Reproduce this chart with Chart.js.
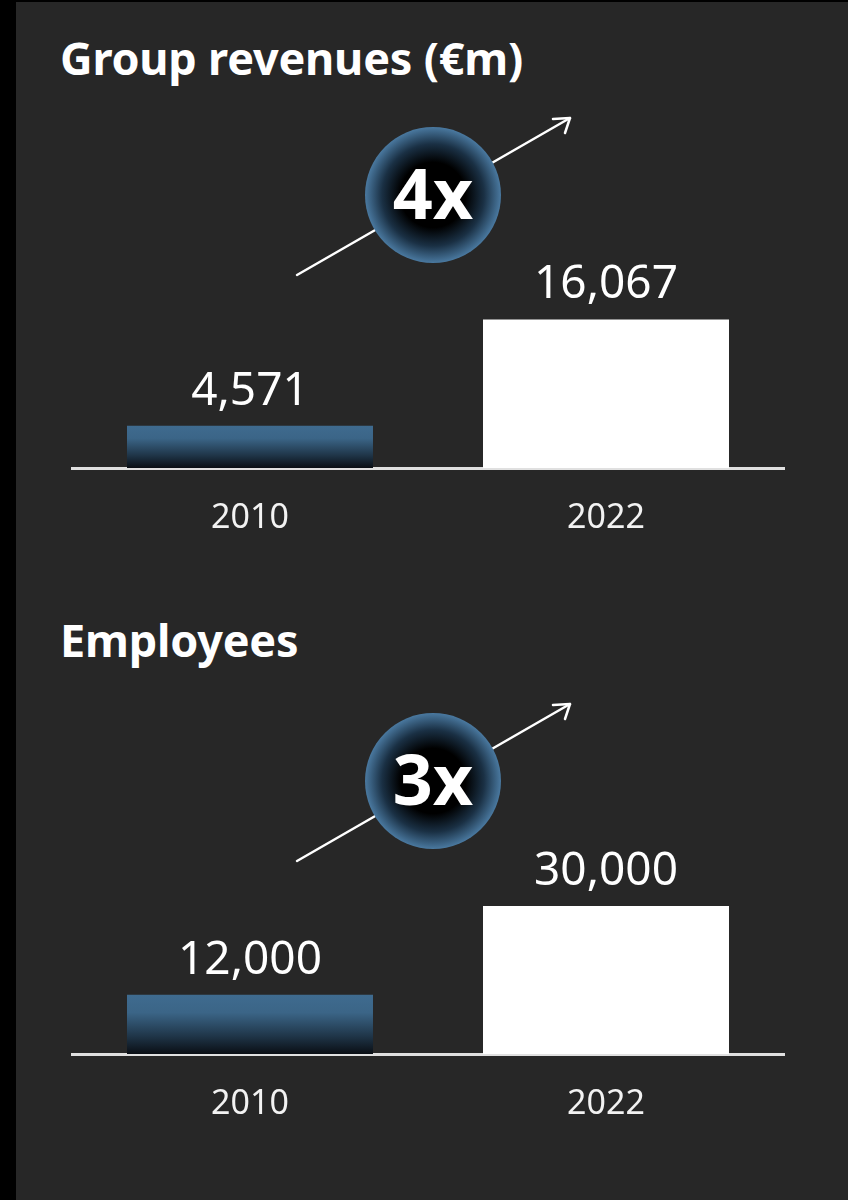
<!DOCTYPE html>
<html>
<head>
<meta charset="utf-8">
<script src="https://cdn.jsdelivr.net/npm/chart.js@4.4.1/dist/chart.umd.min.js"></script>
<style>
  html, body { margin: 0; padding: 0; }
  body {
    width: 848px; height: 1200px; position: relative; overflow: hidden;
    background: #000;
    font-family: "Noto Sans", sans-serif;
  }
  .panel {
    position: absolute; left: 16px; top: 2px; right: 0; bottom: 0;
    background: #272727;
  }
  .title {
    position: absolute; left: 60px; color: #fff;
    font-weight: 700; font-size: 45px; line-height: 1;
    letter-spacing: -0.2px;
  }
  .box { position: absolute; left: 0; width: 848px; height: 600px; }
</style>
</head>
<body>
<div class="panel"></div>
<div class="title" style="top:35px">Group revenues (€m)</div>
<div class="title" style="top:617px">Employees</div>
<div class="box" style="top:0"><canvas id="revChart"></canvas></div>
<div class="box" style="top:586px"><canvas id="empChart"></canvas></div>

<script>
const years = ['2010', '2022'];
const revenues = [4571, 16067];
const employees = [12000, 30000];
const revMax = 32000;
const empMax = 60000;
const revGrowth = '4x';
const empGrowth = '3x';

// blue fade for the older bar, plain white for the current one
function barFill(ctx) {
  const chart = ctx.chart;
  if (!chart.chartArea || ctx.dataIndex === 1) return '#ffffff';
  const y = chart.scales.y;
  const top = y.getPixelForValue(ctx.raw);
  const bottom = y.getPixelForValue(0);
  const g = chart.ctx.createLinearGradient(0, top, 0, bottom);
  g.addColorStop(0, '#3f6b8f');
  g.addColorStop(0.3, '#3b6587');
  g.addColorStop(0.7, '#1f3548');
  g.addColorStop(1, '#0a0e14');
  return g;
}

// numbers above the bars
const valueLabels = {
  id: 'valueLabels',
  afterDatasetsDraw(chart) {
    const c = chart.ctx;
    const meta = chart.getDatasetMeta(0);
    c.save();
    c.fillStyle = '#ffffff';
    c.font = '400 46px "Noto Sans"';
    c.textAlign = 'center';
    c.textBaseline = 'alphabetic';
    meta.data.forEach((bar, i) => {
      const v = chart.data.datasets[0].data[i];
      c.fillText(v.toLocaleString('en-US'), bar.x, bar.y - 21);
    });
    c.restore();
  }
};

// growth arrow with the round badge on top of it
const growthBadge = {
  id: 'growthBadge',
  afterDraw(chart, args, opts) {
    const c = chart.ctx;
    const x0 = 297, y0 = 275, x1 = 570, y1 = 118;
    c.save();
    c.strokeStyle = '#ffffff';
    c.lineWidth = 2.5;
    c.lineCap = 'round';
    c.lineJoin = 'round';
    c.beginPath();
    c.moveTo(x0, y0);
    c.lineTo(x1, y1);
    c.stroke();
    c.beginPath();
    c.moveTo(553, 119);
    c.lineTo(x1, y1);
    c.lineTo(565, 133);
    c.stroke();

    const cx = 433, cy = 195, r = 68;
    const g = c.createRadialGradient(cx, cy, 0, cx, cy, r);
    g.addColorStop(0, '#000000');
    g.addColorStop(0.48, '#000000');
    g.addColorStop(0.75, '#1a3044');
    g.addColorStop(1, '#4a79a0');
    c.fillStyle = g;
    c.beginPath();
    c.arc(cx, cy, r, 0, Math.PI * 2);
    c.fill();

    c.fillStyle = '#ffffff';
    c.font = '700 70px "Noto Sans"';
    c.textAlign = 'center';
    c.textBaseline = 'alphabetic';
    c.fillText(opts.text, cx, 219);
    c.restore();
  }
};

function makeChart(id, values, max, growth) {
  return new Chart(document.getElementById(id), {
    type: 'bar',
    data: {
      labels: years,
      datasets: [{
        data: values,
        backgroundColor: barFill,
        borderWidth: 0,
        barPercentage: 0.691,
        categoryPercentage: 1
      }]
    },
    options: {
      responsive: false,
      animation: false,
      layout: { padding: { left: 72, right: 64, top: 172, bottom: 0 } },
      scales: {
        x: {
          grid: { display: false, drawTicks: false },
          border: { display: true, color: '#e0e0e0', width: 3 },
          ticks: {
            color: '#f2f2f2',
            font: { family: 'Noto Sans', size: 34, weight: '400' },
            padding: 30
          },
          afterFit(scale) { scale.height = 132; }
        },
        y: {
          display: false,
          min: 0,
          max: max
        }
      },
      plugins: {
        legend: { display: false },
        tooltip: { enabled: false },
        growthBadge: { text: growth }
      }
    },
    plugins: [valueLabels, growthBadge]
  });
}

document.querySelectorAll('canvas').forEach(cv => { cv.width = 848; cv.height = 600; });
makeChart('revChart', revenues, revMax, revGrowth);
makeChart('empChart', employees, empMax, empGrowth);
</script>
</body>
</html>
